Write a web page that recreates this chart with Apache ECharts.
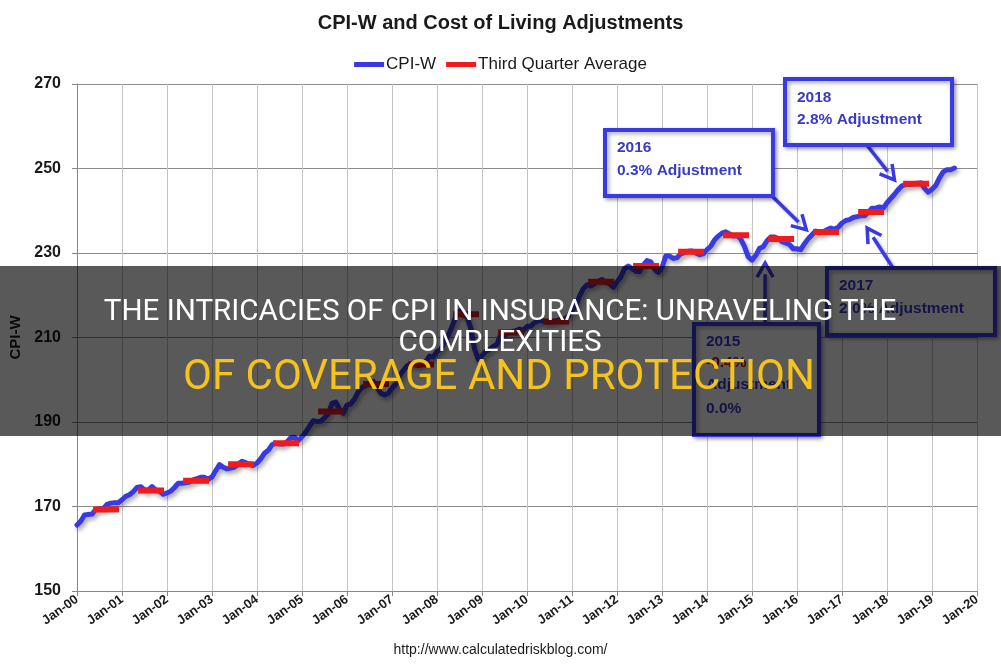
<!DOCTYPE html>
<html><head><meta charset="utf-8">
<script src="https://cdn.jsdelivr.net/npm/echarts@6/dist/echarts.min.js"></script>
<style>html,body{margin:0;padding:0;background:#fff}#c{width:1001px;height:664px}</style>
</head><body><div id="c"></div>
<script>
// Monthly CPI-W, Jan 2000 .. Jul 2019
const cpiW = [
165.6,166.5,168.0,168.1,168.2,169.3,169.5,169.5,170.5,170.8,170.9,170.9,
171.6,172.4,172.8,173.5,174.5,174.7,173.9,173.9,174.7,173.9,173.6,172.9,
173.2,173.6,174.5,175.5,175.5,175.6,175.8,176.3,176.6,176.9,176.9,176.4,
177.0,178.5,179.9,179.3,178.9,179.1,179.3,180.0,180.7,180.4,179.9,179.7,
180.3,181.3,182.6,183.3,184.6,185.0,184.8,184.8,185.3,186.3,186.4,185.6,
186.5,187.6,189.0,190.3,190.1,190.2,191.0,192.0,194.4,194.7,193.0,192.1,
194.0,194.3,195.4,197.2,198.2,198.6,199.2,199.6,198.2,196.8,196.4,196.8,
198.0,199.0,200.9,202.2,203.3,203.8,203.7,203.3,203.9,204.3,205.6,205.4,
206.7,207.2,209.0,210.5,212.6,215.0,216.3,215.3,214.9,212.2,207.3,204.8,
205.7,206.7,207.2,207.9,208.4,210.8,210.5,211.1,211.4,211.6,212.0,211.7,
212.6,212.7,213.5,213.9,214.0,213.7,213.6,213.8,214.0,214.3,214.4,215.0,
216.4,217.5,219.8,221.5,222.5,222.2,222.7,223.3,223.7,223.1,222.7,221.9,
223.2,224.3,226.3,226.9,226.3,225.7,225.6,227.1,228.2,227.9,226.2,225.4,
226.5,229.3,229.3,228.7,228.9,229.8,230.1,230.4,230.5,230.0,229.6,229.8,
230.8,231.6,233.1,234.0,234.7,235.0,234.5,234.0,234.2,233.3,231.5,229.1,
228.3,229.4,231.1,231.5,232.9,233.8,233.8,233.4,232.7,232.4,232.0,231.0,
231.0,230.8,232.2,233.4,234.3,235.2,234.8,235.0,235.5,235.9,235.6,236.1,
237.1,237.7,237.9,238.4,238.6,238.8,238.8,239.6,240.6,240.6,240.9,240.6,
241.9,242.9,243.9,245.0,245.9,246.2,246.2,246.3,246.5,246.6,245.3,244.4,
245.1,246.0,247.8,249.2,249.7,249.7,250.1
];
// Third quarter averages, 2000 .. 2018
const q3Years = [2000,2001,2002,2003,2004,2005,2006,2007,2008,2009,2010,2011,2012,2013,2014,2015,2016,2017,2018];
const q3Avg = [169.3,173.8,176.1,180.0,185.0,192.5,199.0,203.6,215.5,211.2,213.8,223.2,226.9,230.3,234.2,233.3,235.0,239.7,246.4];
const xTickLabels = ['Jan-00','Jan-01','Jan-02','Jan-03','Jan-04','Jan-05','Jan-06','Jan-07','Jan-08','Jan-09','Jan-10',
  'Jan-11','Jan-12','Jan-13','Jan-14','Jan-15','Jan-16','Jan-17','Jan-18','Jan-19','Jan-20'];
const yTicks = [150,170,190,210,230,250,270];

const cpiData = cpiW.map((v,i)=>[i,v]);
const q3Data = [];
q3Years.forEach((y,k)=>{
  const base = (y-2000)*12;
  q3Data.push([base+4.3, q3Avg[k]],[base+11.2, q3Avg[k]],[base+11.6,'-']);
});

const chart = echarts.init(document.getElementById('c'), null, {renderer:'canvas'});
const FONT = 'Liberation Sans';
const BLUE = '#3a3ae4';
const option = {
  animation:false,
  backgroundColor:'#ffffff',
  title:{text:'CPI-W and Cost of Living Adjustments', left:'center', top:8,
    textStyle:{fontFamily:FONT, fontSize:20, fontWeight:'bold', color:'#1a1a1a'}},
  legend:{top:51, left:'center', itemWidth:30, itemHeight:5, itemGap:10, icon:'rect',
    textStyle:{fontFamily:FONT, fontSize:17, color:'#1a1a1a', padding:[0,0,0,-3]},
    data:['CPI-W','Third Quarter Average']},
  grid:{left:77, right:24, top:84, bottom:73, outerBoundsMode:'none', containLabel:false},
  xAxis:{type:'value', min:0, max:240, interval:12,
    axisLine:{show:true, lineStyle:{color:'#888', width:1}},
    axisTick:{show:true, length:5, lineStyle:{color:'#888'}},
    splitLine:{show:true, lineStyle:{color:'#c4c4c4', width:1}},
    axisLabel:{formatter:v=>xTickLabels[Math.round(v/12)], rotate:36, margin:7,
      fontFamily:FONT, fontSize:13, fontWeight:'bold', color:'#1a1a1a'}},
  yAxis:{type:'value', min:150, max:270, interval:20,
    name:'CPI-W', nameLocation:'middle', nameGap:50,
    nameTextStyle:{fontFamily:FONT, fontSize:15, fontWeight:'bold', color:'#1a1a1a'},
    axisLine:{show:true, lineStyle:{color:'#888', width:1}},
    axisTick:{show:true, length:5, lineStyle:{color:'#888'}},
    splitLine:{show:true, lineStyle:{color:'#8c8c8c', width:1}},
    axisLabel:{margin:16, fontFamily:FONT, fontSize:16, fontWeight:'bold', color:'#1a1a1a'}},
  series:[
    {name:'CPI-W', type:'line', data:cpiData, showSymbol:false, symbol:'none', z:3,
      itemStyle:{color:BLUE},
      lineStyle:{color:BLUE, width:5, cap:'round', join:'round',
        shadowColor:'rgba(0,0,0,0.35)', shadowBlur:4, shadowOffsetX:2, shadowOffsetY:3}},
    {name:'Third Quarter Average', type:'line', data:q3Data, showSymbol:false, symbol:'none', z:4,
      connectNulls:false, itemStyle:{color:'#ee1c1c'},
      lineStyle:{color:'#ee1c1c', width:6, cap:'butt'}}
  ]
};
chart.setOption(option);

function px(d){ return chart.convertToPixel({gridIndex:0}, d); }

const boxText = {fontFamily:FONT, fontSize:15.5, fontWeight:'bold', fill:'#3a3ac8'};
function box(x,y,w,h,lines){
  const els = [{type:'rect', shape:{x:x,y:y,width:w,height:h}, z:20,
    style:{fill:'#fff', stroke:BLUE, lineWidth:4, shadowColor:'rgba(0,0,0,0.35)', shadowBlur:4, shadowOffsetX:2, shadowOffsetY:2}}];
  lines.forEach(l=>{
    els.push({type:'text', z:21, x:x+12, y:y+l.dy, style:Object.assign({}, boxText, {text:l.t, fill:l.c||boxText.fill, textVerticalAlign:'middle'})});
  });
  return els;
}
function arrow(from, tipData){
  const tip = px(tipData);
  const dx = tip[0]-from[0], dy = tip[1]-from[1];
  const L = Math.sqrt(dx*dx+dy*dy), ux = dx/L, uy = dy/L;
  const hl = 14, hw = 8;
  const bx = tip[0]-ux*hl, by = tip[1]-uy*hl;
  return [
    {type:'line', z:19, shape:{x1:from[0], y1:from[1], x2:bx+ux*3, y2:by+uy*3},
      style:{stroke:BLUE, lineWidth:3.5, shadowColor:'rgba(0,0,0,0.3)', shadowBlur:3, shadowOffsetX:2, shadowOffsetY:2}},
    {type:'polyline', z:19, shape:{points:[[bx-uy*hw, by+ux*hw],[tip[0],tip[1]],[bx+uy*hw, by-ux*hw]]},
      style:{stroke:BLUE, lineWidth:3.5, fill:null, lineJoin:'miter'}}
  ];
}

let g = [];
g = g.concat(arrow([772,196],[194.5,235.5]));
g = g.concat(arrow([866,144],[218,247.3]));
g = g.concat(arrow([893,268],[210.7,235.9]));
g = g.concat(arrow([765,324],[183.5,227.6]));
g = g.concat(box(605,130,168,66,[{t:'2016',dy:18},{t:'0.3% Adjustment',dy:41}]));
g = g.concat(box(785,79,167,66,[{t:'2018',dy:19},{t:'2.8% Adjustment',dy:41}]));
g = g.concat(box(827,268,168,67,[{t:'2017',dy:18},{t:'2.0% Adjustment',dy:41}]));
g = g.concat(box(694,324,125,111,[{t:'2015',dy:18},{t:'-0.4%',dy:39,c:'#c01010'},{t:'Adjustment',dy:61},{t:'0.0%',dy:85}]));
g.push({type:'text', z:21, left:'center', top:643, style:{text:'http://www.calculatedriskblog.com/', fontFamily:FONT, fontSize:14, fill:'#1a1a1a'}});
// overlay banner
g.push({type:'rect', z:50, shape:{x:0,y:266,width:1001,height:170}, style:{fill:'rgba(0,0,0,0.65)'}});
g.push({type:'text', z:51, x:500, y:313, style:{text:'THE INTRICACIES OF CPI IN INSURANCE: UNRAVELING THE', fontFamily:'Roboto', fontSize:29.6, fill:'#ffffff', textAlign:'center', textVerticalAlign:'middle'}});
g.push({type:'text', z:51, x:500, y:344, style:{text:'COMPLEXITIES', fontFamily:'Roboto', fontSize:29.6, fill:'#ffffff', textAlign:'center', textVerticalAlign:'middle'}});
g.push({type:'text', z:51, x:499, y:378, style:{text:'OF COVERAGE AND PROTECTION', fontFamily:'Roboto', fontSize:42, fill:'#f6c31c', textAlign:'center', textVerticalAlign:'middle'}});

chart.setOption({graphic:{elements:g}});
</script></body></html>
